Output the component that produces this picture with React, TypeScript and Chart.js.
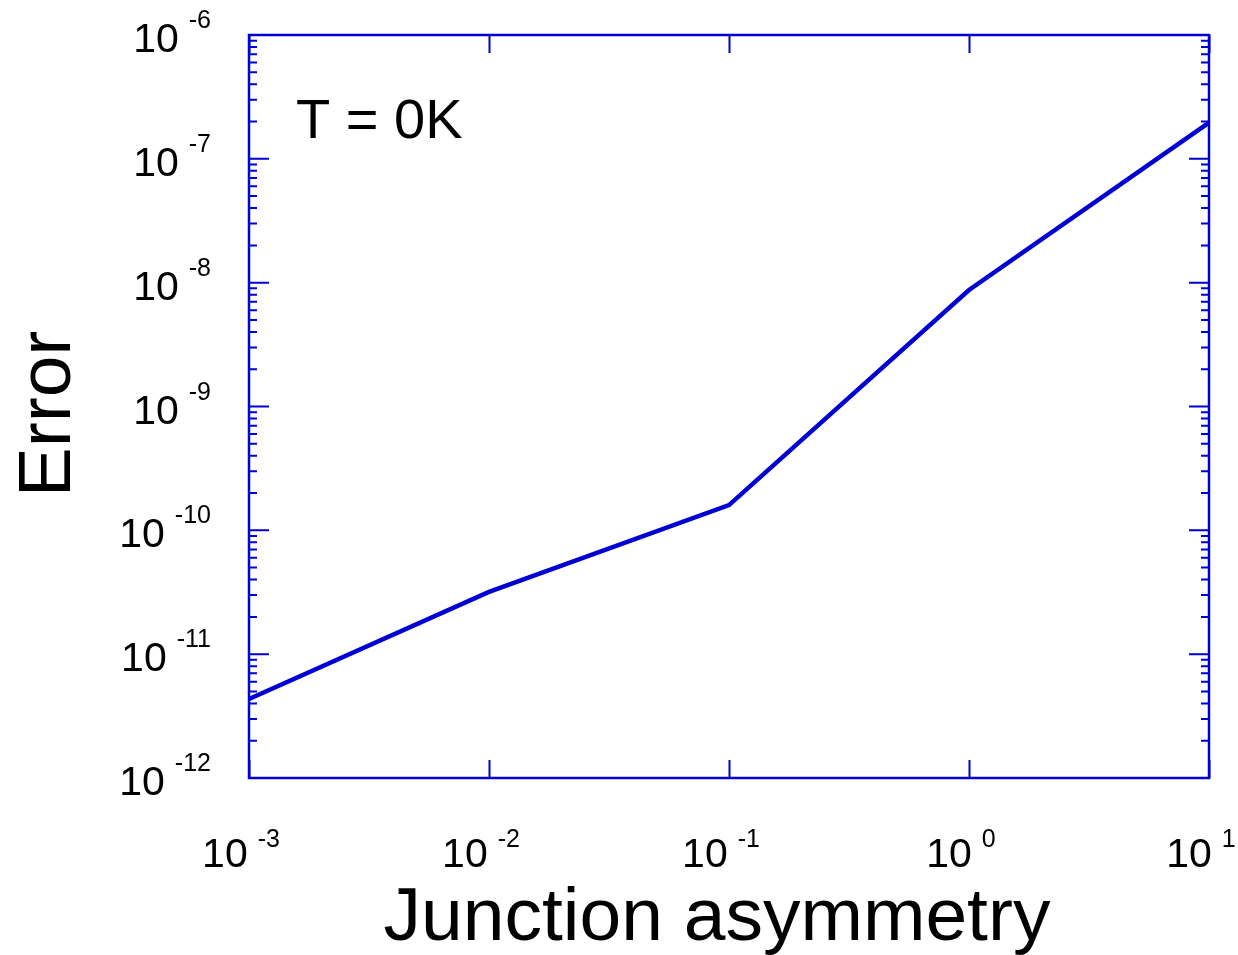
import React, { useEffect, useRef } from "react";
import { Chart, registerables } from "chart.js";

Chart.register(...registerables);

const asymmetry = [1e-3, 1e-2, 1e-1, 1, 10];
const errorValues = [4.35e-12, 3.18e-11, 1.6e-10, 8.73e-9, 1.96e-7];

const xTickValues = [1e-3, 1e-2, 1e-1, 1, 10];
const xTickExponents = ["-3", "-2", "-1", "0", "1"];
const yTickValues = [1e-12, 1e-11, 1e-10, 1e-9, 1e-8, 1e-7, 1e-6];
const yTickExponents = ["-12", "-11", "-10", "-9", "-8", "-7", "-6"];

const xAxisTitle = "Junction asymmetry";
const yAxisTitle = "Error";
const annotationText = "T = 0K";

const BLUE = "#0000d4";
const FONT = "'Liberation Sans', Arial, Helvetica, sans-serif";

const framePlugin = {
  id: "frame",
  beforeDatasetsDraw(chart: any) {
    const ctx = chart.ctx;
    const { left, right, top, bottom } = chart.chartArea;
    const xs = chart.scales.x;
    const ys = chart.scales.y;
    ctx.save();
    ctx.strokeStyle = BLUE;
    ctx.lineWidth = 2.5;
    ctx.strokeRect(left, top, right - left, bottom - top);

    ctx.lineWidth = 2;
    xTickValues.forEach((v) => {
      const px = Math.round(xs.getPixelForValue(v)) + 0.5;
      ctx.beginPath();
      ctx.moveTo(px, bottom);
      ctx.lineTo(px, bottom - 18);
      ctx.moveTo(px, top);
      ctx.lineTo(px, top + 18);
      ctx.stroke();
    });
    yTickValues.forEach((v, i) => {
      const py = ys.getPixelForValue(v);
      ctx.beginPath();
      ctx.moveTo(left, py);
      ctx.lineTo(left + 20, py);
      ctx.moveTo(right, py);
      ctx.lineTo(right - 20, py);
      ctx.stroke();
      if (i < yTickValues.length - 1) {
        for (let m = 2; m <= 9; m++) {
          const pm = ys.getPixelForValue(v * m);
          ctx.beginPath();
          ctx.moveTo(left, pm);
          ctx.lineTo(left + 8, pm);
          ctx.moveTo(right, pm);
          ctx.lineTo(right - 8, pm);
          ctx.stroke();
        }
      }
    });
    ctx.restore();
  },
  afterDraw(chart: any) {
    const ctx = chart.ctx;
    const { left, right } = chart.chartArea;
    const xs = chart.scales.x;
    const ys = chart.scales.y;
    ctx.save();
    ctx.fillStyle = "#000";
    ctx.textBaseline = "alphabetic";
    const big = `41px ${FONT}`;
    const small = `25px ${FONT}`;
    const gap = 10;

    yTickValues.forEach((v, i) => {
      const py = ys.getPixelForValue(v);
      ctx.font = small;
      const ew = ctx.measureText(yTickExponents[i]).width;
      ctx.font = big;
      const bw = ctx.measureText("10").width;
      const rightEdge = 211;
      const ex = rightEdge - ew;
      const bx = ex - gap - bw;
      ctx.textAlign = "left";
      ctx.font = big;
      ctx.fillText("10", bx, py + 17);
      ctx.font = small;
      ctx.fillText(yTickExponents[i], ex, py - 7);
    });

    xTickValues.forEach((v, i) => {
      const px = xs.getPixelForValue(v);
      ctx.font = small;
      const ew = ctx.measureText(xTickExponents[i]).width;
      ctx.font = big;
      const bw = ctx.measureText("10").width;
      const total = bw + gap + ew;
      const bx = px - 8 - total / 2;
      ctx.textAlign = "left";
      ctx.font = big;
      ctx.fillText("10", bx, 867);
      ctx.font = small;
      ctx.fillText(xTickExponents[i], bx + bw + gap, 847);
    });

    ctx.font = `75px ${FONT}`;
    ctx.textAlign = "center";
    ctx.fillText(xAxisTitle, (left + right) / 2 - 12, 940);

    ctx.save();
    ctx.translate(70, 414);
    ctx.rotate(-Math.PI / 2);
    ctx.fillText(yAxisTitle, 0, 0);
    ctx.restore();

    ctx.font = `56px ${FONT}`;
    ctx.textAlign = "left";
    ctx.fillText(annotationText, 296, 138);
    ctx.restore();
  },
};

export default function App() {
  const ref = useRef<HTMLCanvasElement | null>(null);
  useEffect(() => {
    if (!ref.current) return;
    const chart = new Chart(ref.current, {
      type: "line",
      data: {
        datasets: [
          {
            data: asymmetry.map((x, i) => ({ x, y: errorValues[i] })),
            borderColor: BLUE,
            borderWidth: 4.5,
            pointRadius: 0,
            fill: false,
            tension: 0,
            clip: false as any,
          },
        ],
      },
      options: {
        responsive: false,
        animation: false,
        layout: { padding: { left: 249, right: 29, top: 35, bottom: 177 } },
        plugins: { legend: { display: false }, tooltip: { enabled: false } },
        scales: {
          x: { type: "logarithmic", min: 1e-3, max: 10, display: false },
          y: { type: "logarithmic", min: 1e-12, max: 1e-6, display: false },
        },
      },
      plugins: [framePlugin],
    });
    return () => chart.destroy();
  }, []);
  return (
    <div style={{ position: "absolute", left: 0, top: 0, width: 1238, height: 955, background: "#fff" }}>
      <canvas ref={ref} width={1238} height={955} />
    </div>
  );
}
